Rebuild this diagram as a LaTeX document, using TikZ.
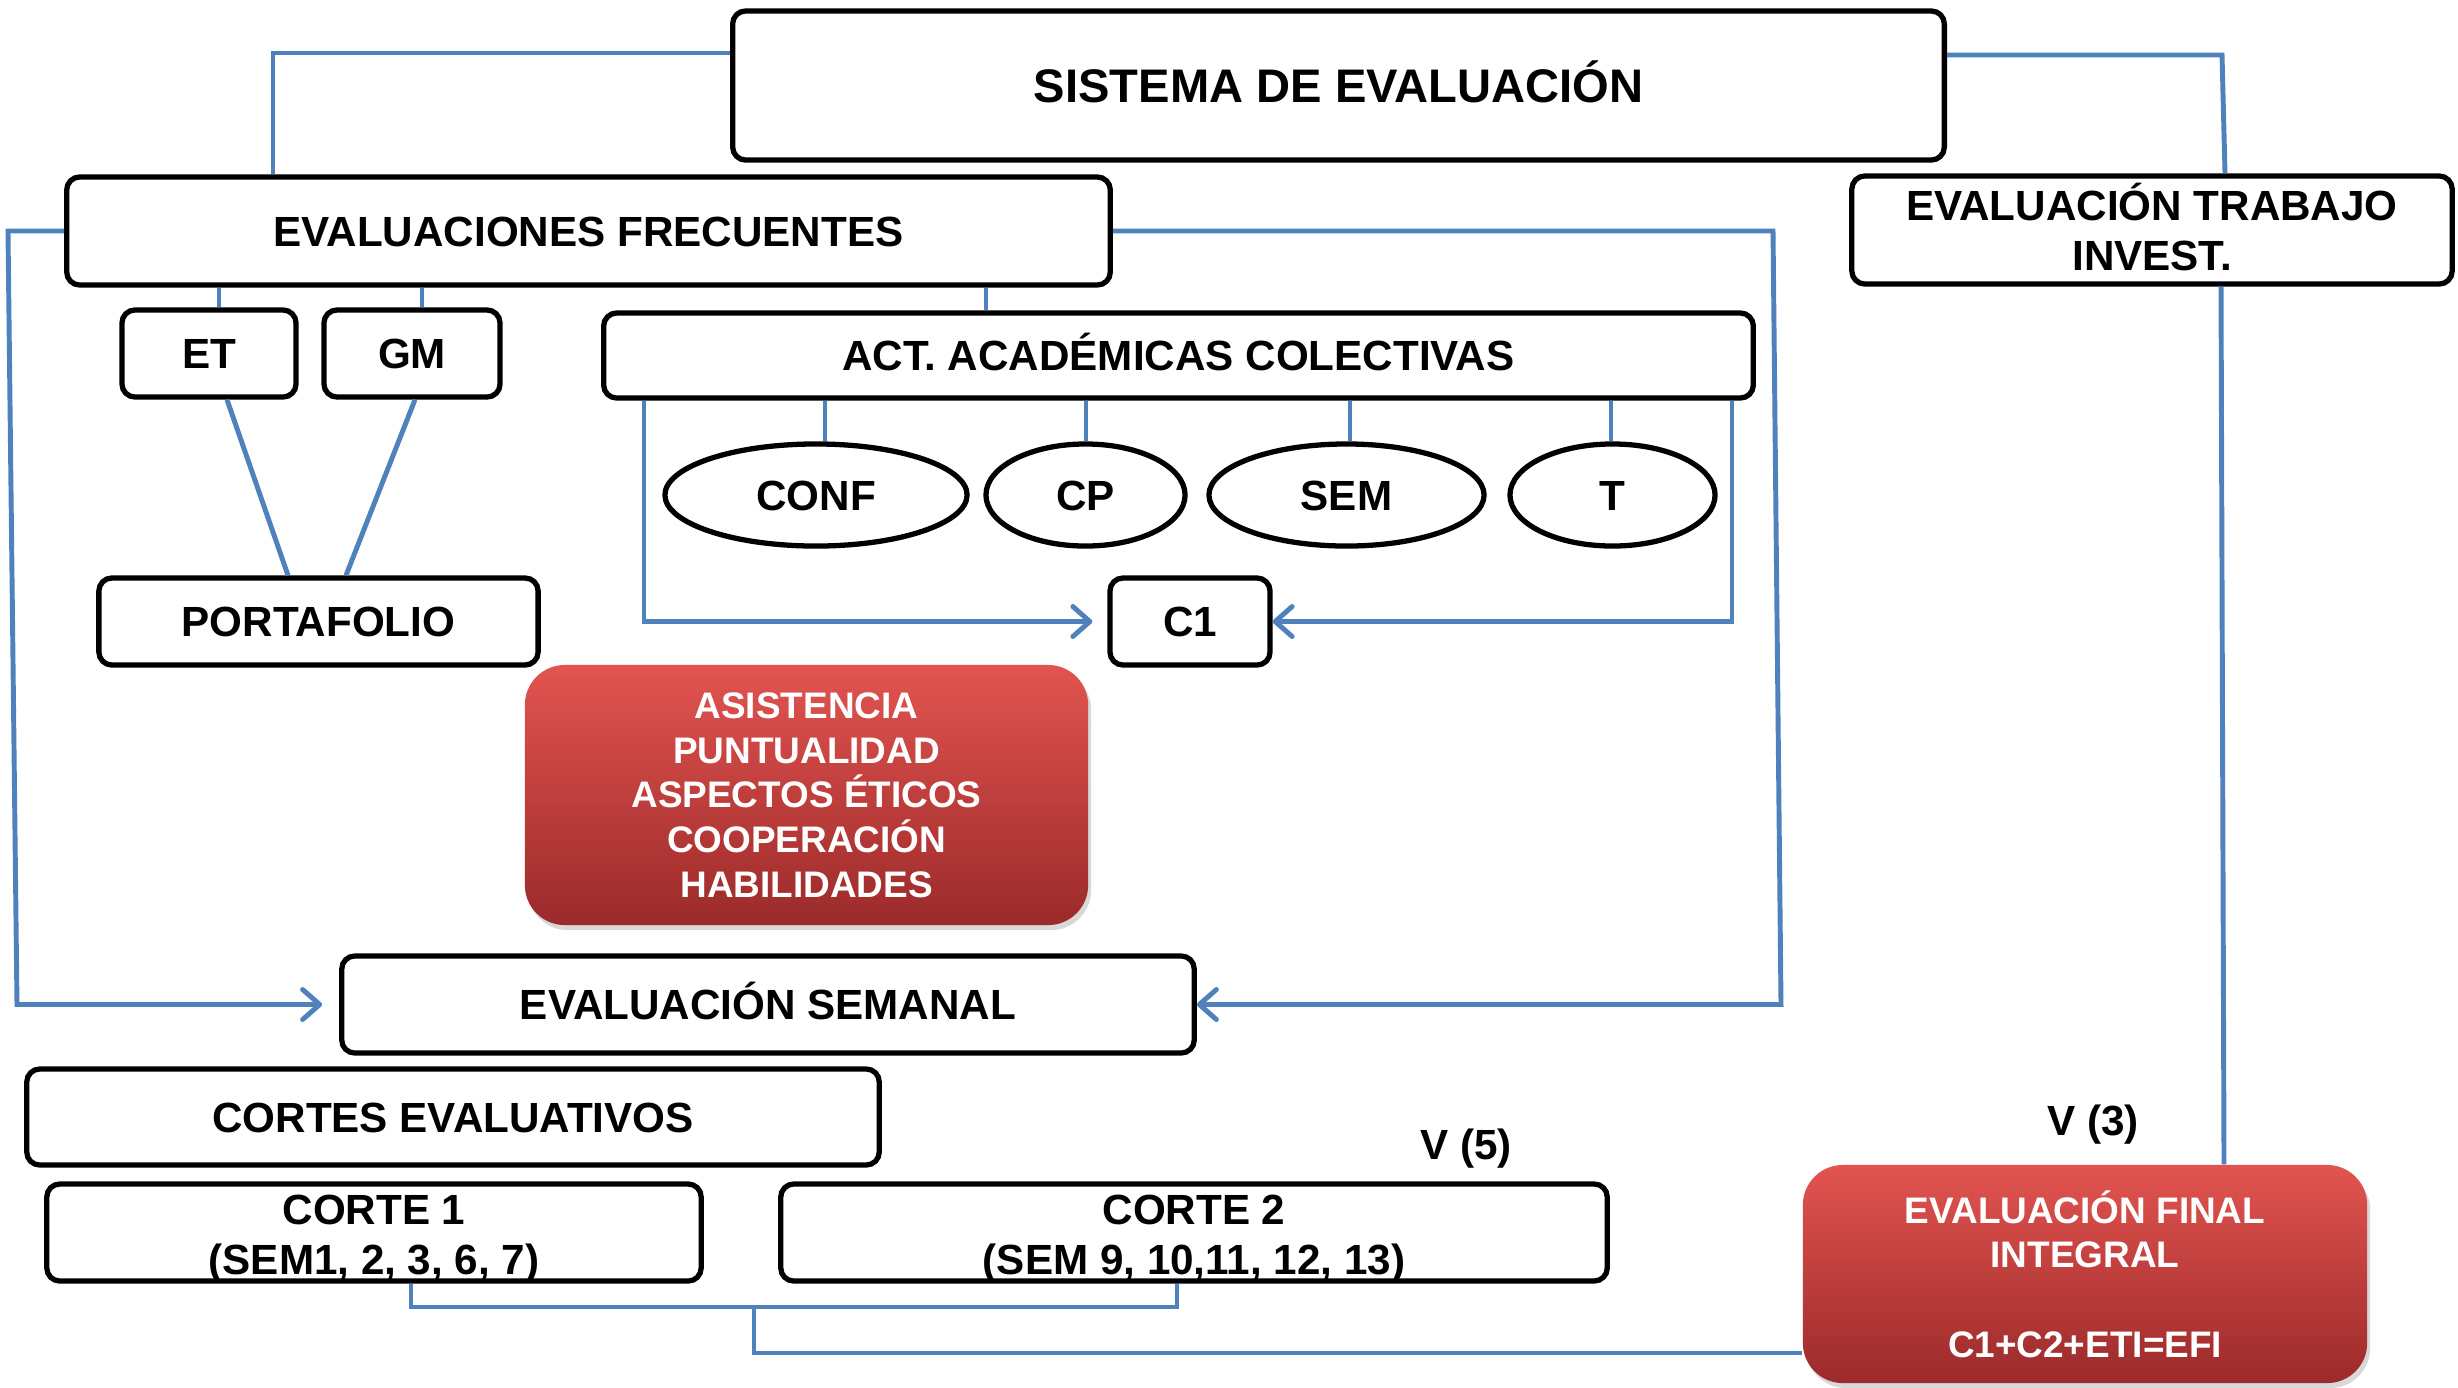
\documentclass[tikz,border=0pt]{standalone}
\usepackage{fontspec}
\setmainfont{Liberation Sans}
\usetikzlibrary{arrows.meta,shadows,shapes.geometric}
\definecolor{cblue}{RGB}{79,129,189}
\definecolor{redtop}{RGB}{226,84,80}
\definecolor{redbot}{RGB}{155,42,42}
\tikzset{
  bx/.style={draw=black, line width=1.5pt, rounded corners=0.13cm, fill=white, inner sep=0pt, align=center,
             font=\fontsize{12}{14.2}\selectfont\bfseries},
  one/.style={text height=8.6pt, text depth=0pt},
  two/.style={text height=23.6pt, text depth=0pt},
  el/.style={draw=black, ellipse, line width=1.5pt, fill=white, inner sep=0pt, minimum height=1.02cm,
             font=\fontsize{12}{14.2}\selectfont\bfseries, text height=8.6pt, text depth=0pt},
  redbx/.style={rounded corners=0.4cm, top color=redtop, bottom color=redbot, draw=none, text=white, inner sep=0pt,
             align=center, font=\fontsize{10.5}{12.7}\selectfont\bfseries,
             drop shadow={shadow xshift=0.03cm, shadow yshift=-0.05cm, opacity=0.3}},
  lbl/.style={inner sep=0pt, font=\fontsize{12}{14.2}\selectfont\bfseries, text height=8.6pt, text depth=0pt},
  conn/.style={draw=cblue, line width=1.4pt},
  arr/.style={-{Straight Barb[length=0.17cm,width=0.3cm,round]}},
}
\begin{document}
\begin{tikzpicture}[x=0.01cm,y=-0.01cm]
\fill[white] (0,0) rectangle (2458,1387);
\useasboundingbox (0,0) rectangle (2458,1387);

\node[bx, minimum width=12.11cm, minimum height=1.49cm, font=\fontsize{13.4}{16}\selectfont\bfseries,
      text height=9.6pt, text depth=0pt] (sis) at (1338.5,85.5) {SISTEMA DE EVALUACIÓN};
\node[bx, one, minimum width=10.43cm, minimum height=1.08cm] (ef) at (588.5,231) {EVALUACIONES FRECUENTES};
\node[bx, text height=23pt, text depth=0pt, minimum width=6.00cm, minimum height=1.08cm] (etrab) at (2152,230) {EVALUACIÓN TRABAJO\\INVEST.};
\node[bx, one, minimum width=1.74cm, minimum height=0.87cm] (et) at (209,353.5) {ET};
\node[bx, one, minimum width=1.76cm, minimum height=0.87cm] (gm) at (412,353.5) {GM};
\node[bx, one, minimum width=11.49cm, minimum height=0.85cm] (act) at (1178.5,355.5) {ACT. ACADÉMICAS COLECTIVAS};
\node[el, minimum width=3.02cm] (conf) at (816,495) {CONF};
\node[el, minimum width=1.99cm] (cp) at (1085.5,495) {CP};
\node[el, minimum width=2.75cm] (sem) at (1346.5,495) {SEM};
\node[el, minimum width=2.05cm] (t) at (1612.5,495) {T};
\node[bx, one, minimum width=4.39cm, minimum height=0.87cm] (port) at (318.5,621.5) {PORTAFOLIO};
\node[bx, one, minimum width=1.60cm, minimum height=0.87cm] (c1) at (1190,621.5) {C1};
\node[redbx, minimum width=5.63cm, minimum height=2.60cm] (red) at (806.5,795)
  {ASISTENCIA\\PUNTUALIDAD\\ASPECTOS ÉTICOS\\COOPERACIÓN\\HABILIDADES};
\node[bx, one, minimum width=8.52cm, minimum height=0.97cm] (esem) at (768,1004.5) {EVALUACIÓN SEMANAL};
\node[bx, one, minimum width=8.52cm, minimum height=0.96cm] (cortes) at (453,1117) {CORTES EVALUATIVOS};
\node[bx, two, minimum width=6.54cm, minimum height=0.97cm] (corte1) at (374,1232.5) {CORTE 1\\(SEM1, 2, 3, 6, 7)};
\node[bx, two, minimum width=8.26cm, minimum height=0.97cm] (corte2) at (1194,1232.5) {CORTE 2\\(SEM 9, 10,11, 12, 13)};
\node[lbl] (v5) at (1466,1144) {V (5)};
\node[lbl] (v3) at (2093,1120) {V (3)};
\node[redbx, minimum width=5.64cm, minimum height=2.18cm] (efi) at (2085,1274)
  {EVALUACIÓN FINAL\\INTEGRAL\\\mbox{}\\C1+C2+ETI=EFI};

% connectors
\draw[conn] (sis.west |- 0,53) -| (273,0 |- ef.north);
\draw[conn] (sis.east |- 0,55) -- (2222,55) -- (2225,0 |- etrab.north);
\draw[conn] (2221,0 |- etrab.south) -- (2224,0 |- efi.north);
\draw[conn,arr] (ef.east) -- (1773,0 |- ef.east) -- (1781,0 |- esem.east) -- (esem.east);
\draw[conn,arr] (ef.west) -- (8,0 |- ef.west) -- (17,0 |- esem.west) -- ([xshift=-0.17cm]esem.west);
\draw[conn] (219,0 |- ef.south) -- (219,0 |- et.north);
\draw[conn] (422,0 |- ef.south) -- (422,0 |- gm.north);
\draw[conn] (986,0 |- ef.south) -- (986,0 |- act.north);
\draw[conn] (227,0 |- et.south) -- (288,0 |- port.north);
\draw[conn] (415,0 |- gm.south) -- (346,0 |- port.north);
\foreach \n/\x in {conf/825, cp/1086, sem/1350, t/1611}
  \draw[conn] (\x,0 |- act.south) -- (\x,0 |- \n.north);
\draw[conn,arr] (644,0 |- act.south) |- ([xshift=-0.15cm]c1.west);
\draw[conn,arr] (1732,0 |- act.south) |- (c1.east);
\coordinate (jn) at (754,1307);
\draw[conn] (411,0 |- corte1.south) |- (jn) -| (1177,0 |- corte2.south);
\draw[conn] (jn) |- (efi.west |- 0,1353);
\end{tikzpicture}
\end{document}
